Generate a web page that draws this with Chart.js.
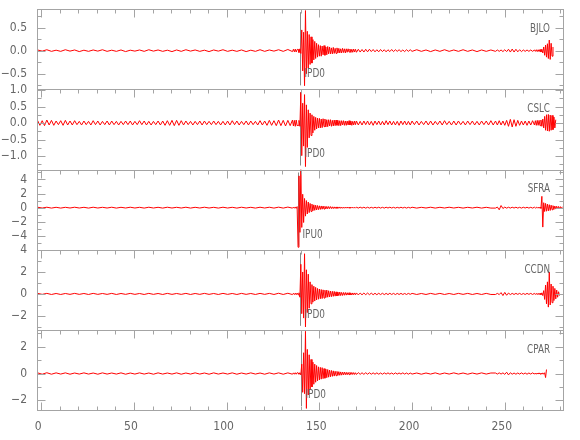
<!DOCTYPE html>
<html>
<head>
<meta charset="utf-8">
<script src="https://cdn.jsdelivr.net/npm/chart.js@4/dist/chart.umd.min.js"></script>
<style>
  html, body { margin: 0; padding: 0; background: #fff; }
  #contenedor { width: 580px; height: 440px; }
</style>
</head>
<body>
<div id="contenedor"><canvas id="sismograma" width="580" height="440"></canvas></div>
<script>
// tiempos de muestreo (s) comunes a las cinco trazas
const tiempos = [
  -2, 0.5, 3, 5.5, 8, 10.5, 13, 15.5, 18, 20.5, 23, 25.5, 28, 30.5, 33, 35.5, 38, 40.5, 43, 45.5,
  48, 50.5, 53, 55.5, 58, 60.5, 63, 65.5, 68, 70.5, 73, 75.5, 78, 80.5, 83, 85.5, 88, 90.5, 93, 95.5,
  98, 100.5, 103, 105.5, 108, 110.5, 113, 115.5, 118, 120.5, 123, 125.5, 128, 130.5, 133, 135.5,
  136, 136.5, 137, 137.5, 138,
  138.5, 139, 139.5, 140, 140.5, 141, 141.5, 142, 142.5, 143, 143.5, 144, 144.5, 145, 145.5, 146, 146.5, 147, 147.5, 148, 148.5, 149, 149.5, 150,
  150.5, 151, 151.5, 152, 152.5, 153, 153.5, 154, 154.5, 155,
  155.5, 156, 156.5, 157, 157.5, 158, 158.5, 159, 159.5, 160,
  160.5, 161, 161.5, 162, 162.5, 163, 163.5, 164, 164.5, 165,
  165.5, 166, 166.5, 167, 167.5, 168, 168.5, 169, 169.5, 170,
  171, 172, 173, 174, 175, 176, 177, 178, 179, 180, 181, 182, 183, 184, 185,
  186, 187, 188, 189, 190, 191, 192, 193, 194, 195, 196, 197, 198, 199, 200,
  202.5, 205, 207.5, 210, 212.5, 215, 217.5, 220, 222.5, 225, 227.5, 230, 232.5, 235, 237.5, 240, 242.5,
  245, 246, 247, 248, 249, 250, 251, 252, 253, 254, 255, 256, 257, 258, 259, 260, 261, 262, 263, 264, 265, 266,
  266.5, 267, 267.5, 268, 268.5, 269, 269.5, 270, 270.5, 271, 271.5, 272, 272.5, 273, 273.5,
  274, 274.5, 275, 275.5, 276, 276.5, 277, 277.5, 278, 278.5, 279, 279.5, 280, 280.5, 281
];

const trazaBJLO = [
  0.015, -0.01, 0.02, -0.015, 0.01, -0.015, 0.02, -0.01, 0.015, -0.02,
  0.01, -0.015, 0.015, -0.01, 0.02, -0.015, 0.01, -0.015, 0.015, -0.02,
  0.01, -0.01, 0.015, -0.015, 0.02, -0.01, 0.015, -0.015, 0.01, -0.02,
  0.015, -0.015, 0.02, -0.01, 0.015, -0.015, 0.01, -0.02, 0.015, -0.01,
  0.02, -0.015, 0.01, -0.015, 0.015, -0.02, 0.01, -0.015, 0.02, -0.015,
  0.015, -0.01, 0.02, -0.015, 0.025, -0.02,
  0.03, -0.025, 0.035, -0.03, 0.025,
  0.03, -0.04, 0.04, -0.06, 0.45, -0.44, 0.4, -0.76, 0.87, -0.5, 0.42, -0.38, 0.35, -0.3, 0.3, -0.27, 0.24, -0.2, 0.2, -0.17, 0.16, -0.14, 0.13, -0.12,
  0.11, -0.12, 0.1, -0.09, 0.11, -0.1, 0.08, -0.09, 0.09, -0.07,
  0.08, -0.07, 0.06, -0.07, 0.07, -0.06, 0.05, -0.06, 0.06, -0.05,
  0.05, -0.05, 0.04, -0.05, 0.05, -0.04, 0.04, -0.05, 0.04, -0.035,
  0.04, -0.03, 0.035, -0.04, 0.03, -0.035, 0.035, -0.03, 0.03, -0.035,
  0.03, -0.03, 0.025, -0.03, 0.03, -0.025, 0.03, -0.02, 0.025, -0.025, 0.02, -0.025, 0.025, -0.02, 0.02,
  -0.025, 0.02, -0.02, 0.025, -0.02, 0.02, -0.015, 0.02, -0.02, 0.015, -0.02, 0.02, -0.015, 0.02, -0.015,
  0.02, -0.015, 0.015, -0.02, 0.015, -0.015, 0.02, -0.015, 0.015, -0.015, 0.02, -0.015, 0.015, -0.02, 0.015, -0.015, 0.015,
  -0.015, 0.015, -0.015, 0.015, -0.02, 0.02, -0.02, 0.03, -0.03, 0.035, -0.03, 0.03, -0.025, 0.02, -0.02, 0.015, -0.015, 0.015, -0.015, 0.015, -0.015, 0.015,
  -0.015, 0.02, -0.02, 0.02, -0.02, 0.025, -0.03, 0.03, -0.05, 0.08, -0.1, 0.12, -0.14, 0.15, -0.17,
  0.23, -0.19, 0.16, -0.12, 0.08, null, null, null, null, null, null, null, null, null, null
];

const trazaCSLC = [
  0.08, 0.07, 0.09, 0.08, 0.06, 0.07, 0.08, 0.06, 0.07, 0.05,
  0.06, 0.05, 0.07, 0.06, 0.05, 0.06, 0.06, 0.05, 0.05, 0.06,
  0.06, 0.05, 0.07, 0.06, 0.05, 0.05, 0.06, 0.06, 0.07, 0.08,
  0.08, 0.07, 0.06, 0.05, 0.05, 0.06, 0.06, 0.05, 0.06, 0.05,
  0.05, 0.06, 0.07, 0.06, 0.05, 0.06, 0.06, 0.05, 0.07, 0.06,
  0.08, 0.07, 0.09, 0.08, 0.08, 0.09,
  -0.09, 0.08, -0.1, 0.09, -0.08,
  -0.07, 0.08, -0.1, 0.93, -0.99, 0.6, -0.7, 0.86, -1.32, 0.55, -0.74, 0.4, -0.45, 0.3, -0.38, 0.25, -0.3, 0.2, -0.22, 0.17, -0.18, 0.15, -0.15, 0.14,
  -0.15, 0.12, -0.14, 0.13, -0.11, 0.12, -0.12, 0.1, -0.11, 0.1,
  -0.09, 0.1, -0.1, 0.08, -0.09, 0.09, -0.08, 0.09, -0.07, 0.08,
  -0.08, 0.07, -0.08, 0.07, -0.06, 0.07, -0.07, 0.06, -0.07, 0.06,
  -0.06, 0.07, -0.06, 0.06, -0.07, 0.05, -0.06, 0.06, -0.05, 0.06,
  -0.06, 0.05, -0.06, 0.06, -0.05, 0.06, -0.06, 0.05, -0.07, 0.06, -0.05, 0.06, -0.06, 0.05, -0.06,
  0.07, -0.05, 0.06, -0.06, 0.05, -0.06, 0.05, -0.07, 0.06, -0.05, 0.06, -0.06, 0.05, -0.06, 0.06,
  0.06, 0.05, 0.06, 0.06, 0.05, 0.06, 0.07, 0.05, 0.06, 0.06, 0.05, 0.06, 0.06, 0.05, 0.06, 0.06, 0.07,
  0.06, -0.06, 0.07, -0.06, 0.06, -0.07, 0.08, -0.1, 0.11, -0.12, 0.1, -0.1, 0.08, -0.07, 0.06, -0.06, 0.06, -0.07, 0.06, -0.06, 0.07, -0.06,
  0.07, -0.07, 0.08, -0.07, 0.08, -0.08, 0.09, -0.1, 0.12, -0.15, 0.2, -0.22, 0.25, -0.24, 0.26,
  -0.25, 0.24, -0.22, 0.23, -0.2, 0.18, -0.15, 0.1, null, null, null, null, null, null, null
];

// muestras intermedias de CSLC en los tramos tranquilos (su ruido es mas visible)
const tiemposExtraCSLC = [
  -0.75, 1.75, 4.25, 6.75, 9.25, 11.75, 14.25, 16.75, 19.25, 21.75, 24.25, 26.75, 29.25, 31.75, 34.25, 36.75, 39.25, 41.75, 44.25, 46.75,
  49.25, 51.75, 54.25, 56.75, 59.25, 61.75, 64.25, 66.75, 69.25, 71.75, 74.25, 76.75, 79.25, 81.75, 84.25, 86.75, 89.25, 91.75, 94.25, 96.75,
  99.25, 101.75, 104.25, 106.75, 109.25, 111.75, 114.25, 116.75, 119.25, 121.75, 124.25, 126.75, 129.25, 131.75, 134.25,
  201.25, 203.75, 206.25, 208.75, 211.25, 213.75, 216.25, 218.75, 221.25, 223.75, 226.25, 228.75, 231.25, 233.75, 236.25, 238.75, 241.25, 243.75
];
const extraCSLC = [
  -0.07, -0.08, -0.06, -0.07, -0.05, -0.07, -0.06, -0.06, -0.05, -0.06,
  -0.05, -0.06, -0.05, -0.06, -0.05, -0.06, -0.05, -0.06, -0.05, -0.05,
  -0.06, -0.05, -0.05, -0.06, -0.06, -0.05, -0.06, -0.07, -0.07, -0.08,
  -0.07, -0.06, -0.05, -0.06, -0.05, -0.06, -0.05, -0.05, -0.05, -0.06,
  -0.06, -0.06, -0.05, -0.06, -0.05, -0.06, -0.05, -0.06, -0.06, -0.07,
  -0.07, -0.08, -0.08, -0.09, -0.08,
  -0.05, -0.06, -0.05, -0.06, -0.06, -0.05, -0.06, -0.05, -0.06, -0.06, -0.05, -0.06, -0.05, -0.06, -0.06, -0.05, -0.06, -0.06
];

const trazaSFRA = [
  0.06, -0.05, 0.06, -0.06, 0.05, -0.06, 0.05, -0.05, 0.06, -0.05,
  0.05, -0.06, 0.06, -0.05, 0.05, -0.05, 0.06, -0.06, 0.05, -0.05,
  0.06, -0.05, 0.05, -0.06, 0.06, -0.05, 0.05, -0.06, 0.06, -0.05,
  0.05, -0.05, 0.06, -0.06, 0.05, -0.05, 0.06, -0.05, 0.05, -0.06,
  0.06, -0.05, 0.05, -0.06, 0.06, -0.05, 0.05, -0.06, 0.06, -0.05,
  0.06, -0.06, 0.07, -0.06, 0.08, -0.07,
  0.08, -0.08, 0.1, -0.1, 0.15,
  -5.6, 4.5, -3.5, 5.4, -2.8, 1.9, -2.1, 1.3, -1.2, 1.0, -0.9, 0.8, -0.7, 0.6, -0.55, 0.5, -0.45, 0.4, -0.38, 0.35, -0.33, 0.3, -0.28, 0.26,
  -0.25, 0.24, -0.22, 0.23, -0.2, 0.19, -0.18, 0.17, -0.16, 0.16,
  -0.14, 0.15, -0.13, 0.12, -0.13, 0.11, -0.11, 0.1, -0.1, 0.1,
  -0.09, 0.1, -0.09, 0.08, -0.09, 0.08, -0.08, 0.08, -0.07, 0.08,
  -0.07, 0.07, -0.08, 0.07, -0.06, 0.07, -0.07, 0.06, -0.07, 0.07,
  -0.06, 0.07, -0.06, 0.06, -0.07, 0.06, -0.06, 0.05, -0.06, 0.06, -0.05, 0.06, -0.06, 0.05, -0.06,
  0.06, -0.05, 0.06, -0.05, 0.05, -0.06, 0.05, -0.05, 0.06, -0.05, 0.05, -0.06, 0.05, -0.05, 0.06,
  -0.06, 0.05, -0.05, 0.06, -0.06, 0.05, -0.05, 0.06, -0.05, 0.05, -0.06, 0.05, -0.05, 0.06, -0.06, 0.05, -0.06,
  -0.06, 0.08, -0.3, 0.3, -0.12, 0.08, -0.07, 0.06, -0.06, 0.06, -0.05, 0.06, -0.06, 0.05, -0.06, 0.06, -0.05, 0.06, -0.06, 0.05, -0.06, 0.06,
  -0.06, 0.06, -0.07, 0.07, -0.08, 0.08, -0.1, 1.6, -2.75, 0.7, -0.55, 0.6, -0.5, 0.5, -0.45,
  0.42, -0.4, 0.35, -0.3, 0.28, -0.25, 0.23, -0.2, 0.2, -0.18, 0.17, -0.15, 0.14, -0.13, 0.12
];

const trazaCCDN = [
  0.05, -0.04, 0.05, -0.05, 0.04, -0.05, 0.04, -0.04, 0.05, -0.04,
  0.04, -0.05, 0.05, -0.04, 0.04, -0.04, 0.05, -0.05, 0.04, -0.04,
  0.05, -0.04, 0.04, -0.05, 0.05, -0.04, 0.04, -0.05, 0.05, -0.04,
  0.04, -0.04, 0.05, -0.05, 0.04, -0.04, 0.05, -0.04, 0.04, -0.05,
  0.05, -0.04, 0.04, -0.05, 0.05, -0.04, 0.04, -0.05, 0.05, -0.04,
  0.05, -0.05, 0.06, -0.05, 0.06, -0.06,
  0.06, -0.06, 0.07, -0.07, 0.08,
  -0.08, 0.1, -0.3, 2.7, -1.8, 2.0, -2.2, 3.66, -3.0, 2.2, -1.7, 1.8, -1.3, 1.1, -0.9, 0.85, -0.75, 0.7, -0.65, 0.6, -0.55, 0.5, -0.48, 0.45,
  -0.44, 0.4, -0.42, 0.37, -0.38, 0.34, -0.33, 0.35, -0.3, 0.29,
  -0.28, 0.26, -0.25, 0.24, -0.22, 0.23, -0.2, 0.19, -0.19, 0.17,
  -0.16, 0.17, -0.15, 0.14, -0.14, 0.13, -0.12, 0.13, -0.11, 0.11,
  -0.1, 0.11, -0.1, 0.09, -0.1, 0.09, -0.08, 0.09, -0.08, 0.09,
  -0.09, 0.08, -0.08, 0.08, -0.07, 0.08, -0.07, 0.07, -0.07, 0.06, -0.07, 0.06, -0.06, 0.06, -0.06,
  0.05, -0.06, 0.06, -0.05, 0.05, -0.06, 0.05, -0.05, 0.05, -0.05, 0.04, -0.05, 0.05, -0.04, 0.05,
  -0.05, 0.04, -0.05, 0.05, -0.04, 0.05, -0.05, 0.04, -0.05, 0.05, -0.04, 0.05, -0.05, 0.04, -0.05, 0.05, -0.05,
  -0.05, 0.05, -0.06, 0.12, -0.15, 0.14, -0.12, 0.08, -0.06, 0.05, -0.05, 0.05, -0.04, 0.05, -0.05, 0.04, -0.05, 0.05, -0.04, 0.05, -0.05, 0.05,
  -0.05, 0.05, -0.06, 0.06, -0.07, 0.07, -0.08, 0.1, -0.15, 0.3, -0.5, 0.8, -0.9, 1.1, -1.2,
  2.0, -1.0, 0.9, -0.8, 0.7, -0.6, 0.5, -0.45, 0.35, -0.3, 0.2, -0.15, null, null, null
];

const trazaCPAR = [
  0.05, -0.05, 0.06, -0.05, 0.05, -0.04, 0.05, -0.05, 0.04, -0.04,
  0.05, -0.04, 0.04, -0.05, 0.05, -0.04, 0.04, -0.04, 0.05, -0.05,
  0.04, -0.04, 0.05, -0.04, 0.04, -0.05, 0.05, -0.04, 0.04, -0.04,
  0.05, -0.05, 0.04, -0.04, 0.05, -0.04, 0.04, -0.05, 0.05, -0.04,
  0.04, -0.04, 0.05, -0.05, 0.04, -0.04, 0.05, -0.04, 0.04, -0.05,
  0.05, -0.04, 0.05, -0.05, 0.05, -0.05,
  0.05, -0.05, 0.06, -0.05, 0.06,
  0.05, -0.05, 0.06, -0.1, 0.7, -1.4, 1.55, -1.5, 3.15, -2.6, 1.8, -1.6, 1.4, -1.2, 1.05, -1.0, 0.85, -0.8, 0.7, -0.65, 0.6, -0.55, 0.5, -0.48,
  0.46, -0.42, 0.44, -0.38, 0.37, -0.35, 0.33, -0.31, 0.3, -0.27,
  0.26, -0.24, 0.23, -0.21, 0.2, -0.19, 0.17, -0.16, 0.16, -0.14,
  0.14, -0.13, 0.12, -0.12, 0.11, -0.1, 0.11, -0.09, 0.09, -0.09,
  0.08, -0.08, 0.09, -0.07, 0.08, -0.07, 0.07, -0.07, 0.06, -0.07,
  0.07, -0.06, 0.06, -0.06, 0.06, -0.05, 0.06, -0.05, 0.05, -0.05, 0.05, -0.05, 0.04, -0.05, 0.05,
  -0.04, 0.05, -0.04, 0.04, -0.05, 0.05, -0.04, 0.04, -0.04, 0.05, -0.04, 0.04, -0.05, 0.04, -0.04,
  0.04, -0.05, 0.04, -0.04, 0.05, -0.05, 0.04, -0.04, 0.05, -0.04, 0.04, -0.05, 0.04, -0.04, 0.05, -0.04, 0.04,
  0.04, -0.04, 0.05, -0.04, 0.05, -0.06, 0.1, -0.1, 0.06, -0.05, 0.04, -0.05, 0.04, -0.04, 0.05, -0.04, 0.04, -0.05, 0.04, -0.04, 0.05, -0.04,
  0.04, -0.05, 0.04, -0.04, 0.05, -0.04, 0.04, -0.05, 0.05, -0.05, 0.06, -0.3, 0.3, null, null,
  null, null, null, null, null, null, null, null, null, null, null, null, null, null, null
];

// paneles: nombre, limites del eje y, etiquetas y marcas
const estaciones = ['BJLO', 'CSLC', 'SFRA', 'CCDN', 'CPAR'];
const limiteMin = [-0.84, -1.41, -5.95, -3.27, -2.72];
const limiteMax = [0.9, 1.02, 5.4, 4.03, 3.26];
const pasoEtiqueta = [0.5, 0.5, 2, 2, 2];
const pasoMenor = [0.25, 0.25, 1, 1, 1];
const decimales = [1, 1, 0, 0, 0];

// lecturas de fase (s) y su etiqueta
const lecturas = [139.6, 139.6, 138.4, 139.3, 140.0];
const fases = ['IPD0', 'IPD0', 'IPU0', 'IPD0', 'IPD0'];

// eje de tiempo
const tiempoMin = -2.3;
const tiempoMax = 281.4;
const pasoTiempo = 50;
const pasoTiempoMenor = 10;

const trazas = [trazaBJLO, trazaCSLC, trazaSFRA, trazaCCDN, trazaCPAR];

const FAMILIA = "'Liberation Sans Narrow', 'DejaVu Sans Condensed', 'Liberation Sans', sans-serif";
const GRIS_TEXTO = '#666666';
const GRIS_MARCO = '#a4a4a4';
const GRIS_MARCA = '#8a8a8a';

function formato(v, d) {
    const txt = Math.abs(v).toFixed(d);
    return v < -1e-9 ? '\u2212' + txt : txt;
}

// junta tiempos y valores (y muestras extra si las hay) ordenados por tiempo
function puntos(valores, extraT, extraV) {
    const pts = tiempos.map((t, k) => ({ x: t, y: valores[k] }));
    if (extraT) {
        extraT.forEach((t, k) => pts.push({ x: t, y: extraV[k] }));
    }
    return pts.sort((a, b) => a.x - b.x);
}

// texto comprimido en horizontal (letra estrecha como la original)
function textoEstrecho(ctx, txt, x, y, alin, escala) {
    ctx.save();
    ctx.translate(x, y);
    ctx.scale(escala, 1);
    ctx.font = '13px ' + FAMILIA;
    ctx.fillStyle = GRIS_TEXTO;
    ctx.textAlign = alin;
    ctx.textBaseline = 'middle';
    ctx.fillText(txt, 0, 0);
    ctx.restore();
}

function linea(ctx, x1, y1, x2, y2) {
    ctx.beginPath();
    ctx.moveTo(x1, y1);
    ctx.lineTo(x2, y2);
    ctx.stroke();
}

const marcoSismos = {
    id: 'marcoSismos',
    beforeDatasetsDraw(chart) {
        const ctx = chart.ctx;
        const ex = chart.scales.x;
        ctx.save();
        ctx.strokeStyle = GRIS_MARCA;
        ctx.lineWidth = 1;
        lecturas.forEach((t, i) => {
            const ey = chart.scales['y' + i];
            const px = Math.round(ex.getPixelForValue(t)) + 0.5;
            linea(ctx, px, ey.top + 3, px, ey.bottom - 4);
        });
        ctx.restore();
    },
    afterDatasetsDraw(chart) {
        const ctx = chart.ctx;
        const ex = chart.scales.x;
        const area = chart.chartArea;
        const izq = Math.round(area.left) + 0.5;
        const der = Math.round(area.right) + 0.5;
        ctx.save();
        ctx.strokeStyle = GRIS_MARCO;
        ctx.lineWidth = 1;

        estaciones.forEach((est, i) => {
            const ey = chart.scales['y' + i];
            const arriba = Math.round(ey.top) + 0.5;
            const abajo = Math.round(ey.bottom) + 0.5;
            ctx.strokeRect(izq, arriba, der - izq, abajo - arriba);

            // marcas del eje y, hacia dentro por los dos lados
            const k0 = Math.ceil(ey.min / pasoMenor[i] - 1e-9);
            const k1 = Math.floor(ey.max / pasoMenor[i] + 1e-9);
            for (let k = k0; k <= k1; k++) {
                const v = k * pasoMenor[i];
                const py = Math.round(ey.getPixelForValue(v)) + 0.5;
                const r = v / pasoEtiqueta[i];
                const largo = Math.abs(r - Math.round(r)) < 1e-6 ? 8 : 4;
                linea(ctx, izq, py, izq + largo, py);
                linea(ctx, der, py, der - largo, py);
            }

            // marcas de tiempo en el borde superior de cada panel
            for (let t = Math.ceil(tiempoMin / pasoTiempoMenor) * pasoTiempoMenor; t <= tiempoMax; t += pasoTiempoMenor) {
                const px = Math.round(ex.getPixelForValue(t)) + 0.5;
                const largo = t % pasoTiempo === 0 ? 8 : 4;
                linea(ctx, px, arriba, px, arriba + largo);
                if (i === estaciones.length - 1) {
                    linea(ctx, px, abajo, px, abajo - largo);
                }
            }

            textoEstrecho(ctx, est, 550, ey.top + 19.5, 'right', 0.75);

            const pxFase = Math.round(ex.getPixelForValue(lecturas[i])) + 0.5;
            textoEstrecho(ctx, fases[i], pxFase + 4, ey.bottom - 15.5, 'left', 0.76);
        });
        ctx.restore();
    }
};

document.addEventListener('DOMContentLoaded', function() {
    const ctx = document.getElementById('sismograma').getContext('2d');

    trazas.forEach((tr, i) => {
        if (tr.length !== tiempos.length) {
            console.error('Longitud distinta en ' + estaciones[i] + ': ' + tr.length + ' / ' + tiempos.length);
        }
    });
    if (tiemposExtraCSLC.length !== extraCSLC.length) {
        console.error('Longitud distinta en extra CSLC');
    }

    const fuente = { family: FAMILIA, size: 12 };

    const escalas = {
        x: {
            type: 'linear',
            min: tiempoMin,
            max: tiempoMax,
            grid: { display: false },
            border: { display: false },
            ticks: {
                stepSize: pasoTiempo,
                includeBounds: false,
                autoSkip: false,
                maxRotation: 0,
                padding: 2,
                labelOffset: -3,
                color: GRIS_TEXTO,
                font: fuente,
                callback: v => String(v)
            },
            afterFit: s => { s.height = 30; }
        }
    };

    // los ejes apilados se colocan de abajo hacia arriba: se declaran al reves
    for (let i = estaciones.length - 1; i >= 0; i--) {
        escalas['y' + i] = {
            type: 'linear',
            position: 'left',
            stack: 'sismos',
            stackWeight: 1,
            min: limiteMin[i],
            max: limiteMax[i],
            grid: { display: false },
            border: { display: false },
            ticks: {
                stepSize: pasoEtiqueta[i],
                includeBounds: false,
                autoSkip: false,
                padding: 2,
                color: GRIS_TEXTO,
                font: fuente,
                callback: v => formato(v, decimales[i])
            },
            afterFit: s => { s.width = 37; }
        };
    }

    new Chart(ctx, {
        type: 'line',
        data: {
            datasets: trazas.map((valores, i) => ({
                label: estaciones[i],
                data: i === 1 ? puntos(valores, tiemposExtraCSLC, extraCSLC) : puntos(valores),
                yAxisID: 'y' + i,
                borderColor: '#ff0000',
                borderWidth: 1,
                pointRadius: 0,
                tension: 0,
                spanGaps: false
            }))
        },
        options: {
            responsive: false,
            devicePixelRatio: 1,
            animation: false,
            layout: { padding: { top: 5, right: 17, bottom: 0, left: 0 } },
            plugins: {
                legend: { display: false },
                tooltip: { enabled: false }
            },
            scales: escalas
        },
        plugins: [marcoSismos]
    });
});
</script>
</body>
</html>
